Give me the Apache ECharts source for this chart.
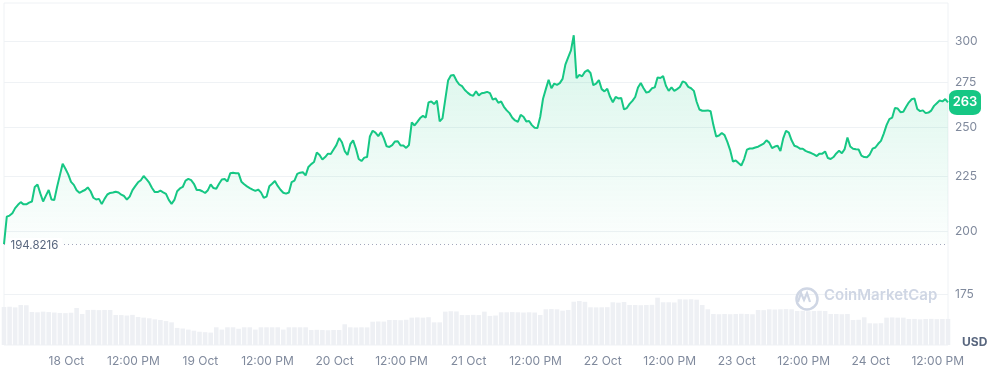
<!DOCTYPE html>
<html>
<head>
<meta charset="utf-8">
<script src="https://cdn.jsdelivr.net/npm/echarts@6/dist/echarts.min.js"></script>
<style>
html,body{margin:0;padding:0;background:#fff;}
#chart{width:1000px;height:369px;}
</style>
</head>
<body>
<div id="chart"></div>
<script>
// ---- data ----
const startTimeUTC = Date.UTC(2024, 9, 17, 12, 50); // first sample
const priceStepMinutes = 30;
const volumeStepMinutes = 60;
const openPrice = 194.8216;
const priceTicks = [175, 200, 225, 250, 275, 300];
const timeTicks = [
'2024-10-18T00:00:00Z','2024-10-18T12:00:00Z','2024-10-19T00:00:00Z','2024-10-19T12:00:00Z',
'2024-10-20T00:00:00Z','2024-10-20T12:00:00Z','2024-10-21T00:00:00Z','2024-10-21T12:00:00Z',
'2024-10-22T00:00:00Z','2024-10-22T12:00:00Z','2024-10-23T00:00:00Z','2024-10-23T12:00:00Z',
'2024-10-24T00:00:00Z','2024-10-24T12:00:00Z'
];
const prices = [
194.8,206.5,207,208,210.3,211.8,213,212,212,212.8,
213.3,220,221.2,217,213.3,216,218.6,214.2,214,220,
225.5,231.2,228.7,226,222.4,221,218.5,217.3,218,218.6,
219.8,218,215,214.2,214.5,212.1,214.5,216.5,217.2,217.4,
217.8,217.4,216.4,215.8,214.2,215.5,218.5,220.4,222.2,223.2,
225.2,223.7,222,219.5,217.6,217.6,218.3,217.5,216.8,214,
212.2,214,218,219.3,220,223,223.8,223.2,221.5,218.6,
218.6,218,217.2,218.5,221.2,219.5,219.2,221.5,223.5,223.8,
222.6,226.5,226.8,226.5,226.5,222.5,221.3,220.3,219.5,218.8,
218.2,218.8,217.5,215,215.5,220.3,221.5,222.8,220.5,218.7,
217.3,216.9,217.4,222.3,223,226.2,226.8,227,225.5,229.6,
231,232,236.8,235.5,233.3,234.5,236.2,236,238.3,240.5,
244.2,242,237.5,235.5,241,243,238.8,233.5,232.5,234.2,
234.5,245,248,247,245.2,247.3,244,239.9,239.6,240.5,
242.4,242.5,240.3,240.3,239.1,240.6,252.5,250.8,252.7,254.8,
256,255,263.4,264,262.5,264.4,253,254.6,265.2,276,
279,279.3,276,273.7,272.7,270.5,269,267.7,267.2,269.8,
267.4,268.6,268.9,269.4,268.7,265,265.7,263.2,264,261,
259,257.5,255,253.5,252.8,256.5,255.5,253,253.2,251,
249.6,249.5,255.5,265.5,271,276.5,271.5,274.2,273.5,274.5,
277,285.5,290,294.3,304,277.4,279.4,278.5,281.2,282.3,
280.5,273.3,274.2,276.3,271,269.7,271.2,266.6,263.5,266.5,
265.7,265.9,259.5,260.3,262.6,264.3,266.5,272,274.6,271.5,
269,269.5,271.5,272,277.8,277.5,278.6,273,270,272,
270,271,272.2,275.5,274.8,272.3,271.5,270,263.8,259.5,
258.8,258.8,259,258.5,251,245,245.5,246.8,245.7,242.2,
238,232.3,232.8,231.5,230.3,233.5,238.2,238.8,238.8,239.3,
239.7,240.5,241.3,243,241.8,239,239.8,240.2,237.5,244,
248,247,243,240.2,239.7,238.7,238.7,237.6,237,236.5,
235.8,235,236.2,236.2,237.3,234,233.5,234.5,236.3,237.6,
236.4,238.5,244.5,239.8,238.7,238.4,238.3,235.2,234.5,234.4,
235.8,238.7,239.3,241.2,242.7,246.5,251,254.2,255,260.3,
260,258,258.2,261,263.5,265.2,265.7,259.8,258.6,259,
257.5,257.8,258.9,261.5,263,264.5,264,265.3,263.4
];
const volumes = [
889,895,880,936,930,772,765,780,770,760,
750,745,755,866,725,819,822,815,820,818,
702,700,690,705,655,640,625,600,585,560,
530,400,385,360,335,310,300,290,414,360,
414,414,380,414,414,360,414,414,414,414,
360,414,414,414,414,350,355,350,345,352,
350,485,414,410,414,412,545,550,548,585,
585,580,590,640,645,640,650,530,530,780,
790,785,702,700,705,700,780,680,690,765,
765,770,765,760,765,760,702,835,840,835,
803,820,1013,1030,1010,882,880,882,885,1000,
990,1005,936,936,930,936,940,1107,1000,1000,
995,1070,1065,1070,1060,936,835,725,720,725,
720,725,730,725,720,819,815,835,830,835,
840,835,796,800,790,796,800,796,725,725,
720,725,585,590,648,508,505,510,640,645,
640,640,608,610,600,608,612,605,608,610
];
// ---------------------------------------

const MIN = 60 * 1000;
const priceData = prices.map((v, i) => [startTimeUTC + i * priceStepMinutes * MIN, v]);
const volData = volumes.map((v, i) => [startTimeUTC + i * volumeStepMinutes * MIN, v]);
const tMin = priceData[0][0];
const tMax = priceData[priceData.length - 1][0];
const lastPrice = prices[prices.length - 1];
const tickValues = timeTicks.map(s => Date.parse(s));

const gridColor = '#eff2f5';
const labelColor = '#808a9d';
const FONT = 'Inter, "Noto Sans", sans-serif';

function timeLabel(val) {
  const d = new Date(val);
  const h = d.getUTCHours();
  if (h === 0) return d.getUTCDate() + ' Oct';
  const hh = h % 12 === 0 ? 12 : h % 12;
  return hh + ':00 ' + (h < 12 ? 'AM' : 'PM');
}

const chart = echarts.init(document.getElementById('chart'), null, {renderer: 'canvas'});
chart.setOption({
  animation: false,
  textStyle: {fontFamily: FONT},
  grid: {left: 4, right: 52, top: 3, bottom: 24, show: true, borderColor: gridColor, borderWidth: 1, backgroundColor: 'transparent'},
  xAxis: {
    type: 'value',
    min: tMin,
    max: tMax,
    scale: true,
    axisLine: {show: false},
    axisTick: {show: false, customValues: tickValues},
    splitLine: {show: false},
    axisLabel: {
      customValues: tickValues,
      color: labelColor, fontSize: 12, fontFamily: FONT, margin: 10,
      formatter: timeLabel, hideOverlap: false
    }
  },
  yAxis: [{
    type: 'log',
    logBase: 10,
    position: 'right',
    min: 157.1,
    max: 325.6,
    axisLine: {show: false},
    axisTick: {show: false, customValues: priceTicks},
    splitLine: {show: true, lineStyle: {color: gridColor, width: 1}},
    axisLabel: {customValues: priceTicks, color: labelColor, fontSize: 12, fontFamily: FONT, margin: 7, formatter: v => String(Math.round(v))}
  }, {
    type: 'value',
    min: 0,
    max: 8000,
    show: false,
    splitLine: {show: false}
  }],
  series: [{
    type: 'bar',
    yAxisIndex: 1,
    data: volData,
    barWidth: 4.6,
    itemStyle: {color: '#eef0f4'},
    silent: true,
    z: 1
  }, {
    type: 'line',
    data: priceData,
    showSymbol: false,
    symbol: 'none',
    z: 3,
    lineStyle: {color: '#16c784', width: 2},
    areaStyle: {
      origin: openPrice,
      color: new echarts.graphic.LinearGradient(0, 0, 0, 1, [
        {offset: 0, color: 'rgba(22,199,132,0.24)'},
        {offset: 1, color: 'rgba(22,199,132,0.02)'}
      ])
    },
    markLine: {
      silent: true,
      symbol: ['none', 'none'],
      label: {show: false},
      lineStyle: {type: [1, 3], color: '#a1a7bb', width: 1},
      data: [{yAxis: openPrice}]
    },
    markPoint: {
      silent: true,
      data: [{
        coord: [tMin, openPrice],
        value: openPrice,
        symbol: 'rect',
        symbolSize: 1,
        itemStyle: {color: 'rgba(0,0,0,0)'},
        label: {
          show: true, position: 'right', distance: 2, offset: [0, 2],
          formatter: String(openPrice), color: '#58667e', fontSize: 11.5, fontFamily: FONT,
          backgroundColor: '#fff', padding: [2, 4]
        }
      }, {
        coord: [tMax, lastPrice],
        value: Math.round(lastPrice),
        symbol: 'roundRect',
        symbolSize: [32, 25],
        symbolOffset: [17, 0],
        itemStyle: {color: '#16c784'},
        label: {show: true, position: 'inside', color: '#fff', fontSize: 13, fontWeight: 600, fontFamily: FONT, formatter: '{c}'}
      }]
    }
  }],
  graphic: [
    {type: 'circle', left: 794, top: 286, shape: {r: 10.5}, style: {fill: 'none', stroke: '#cfd6e4', lineWidth: 2.5}, z: 5},
    {type: 'polyline', shape: {points: [[798, 302], [801, 293], [804, 300], [807, 293], [810, 302]]}, style: {fill: 'none', stroke: '#cfd6e4', lineWidth: 2.2}, z: 5},
    {type: 'text', left: 824, top: 288, style: {text: 'CoinMarketCap', fill: '#cfd6e4', font: '600 15px ' + FONT}, z: 5},
    {type: 'text', left: 962, top: 336, style: {text: 'USD', fill: '#58667e', font: 'bold 12px ' + FONT}, z: 5}
  ]
});
</script>
</body>
</html>
